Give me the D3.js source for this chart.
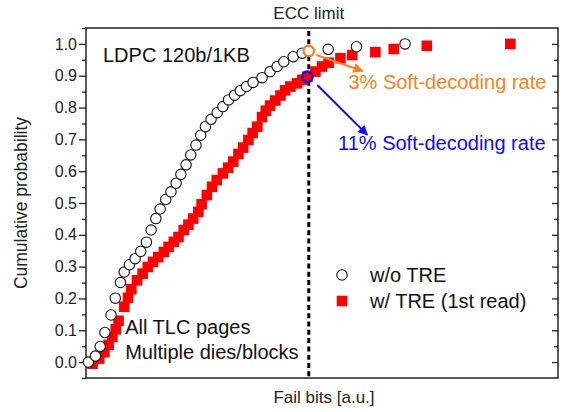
<!DOCTYPE html>
<html><head><meta charset="utf-8">
<script src="https://cdn.jsdelivr.net/npm/d3@7"></script>
<style>html,body{margin:0;padding:0;background:#fff;} svg{display:block;font-family:"Liberation Sans",Arial,sans-serif;}</style>
</head><body><svg id="chart" width="564" height="412"></svg>
<script>
// w/o TRE (open circles)
const woX = [0.5,2.0,3.0,4.0,5.3,6.2,7.3,8.1,9.2,10.4,11.6,12.8,13.8,14.8,15.7,16.9,18.0,19.1,20.1,21.2,22.2,23.3,24.3,25.3,26.5,27.8,29.0,30.2,31.5,32.7,34.0,35.4,37.3,39.0,40.5,41.9,43.9,45.8,47.2,51.3,57.3,67.6];
const woP = [0.000,0.019,0.049,0.093,0.148,0.201,0.250,0.283,0.306,0.325,0.348,0.377,0.415,0.451,0.481,0.511,0.535,0.562,0.590,0.620,0.651,0.682,0.713,0.740,0.763,0.784,0.803,0.824,0.839,0.853,0.866,0.879,0.894,0.913,0.929,0.944,0.960,0.971,0.978,0.983,0.991,1.000];
// w/ TRE (1st read) (red squares)
const wX = [1.4,2.8,3.9,4.8,5.6,6.3,6.9,8.1,8.9,9.6,10.8,12.0,13.1,14.2,15.3,16.5,17.5,18.6,19.6,20.7,21.7,22.7,23.8,24.5,25.6,26.7,27.7,29.0,30.1,31.2,32.3,33.3,34.4,35.3,36.3,37.3,38.1,39.0,40.1,41.2,42.2,43.3,44.7,45.8,46.9,48.6,50.0,51.4,53.9,56.4,61.3,65.2,72.2,89.9];
const wP = [-0.005,0.011,0.031,0.054,0.079,0.103,0.130,0.174,0.202,0.229,0.257,0.278,0.299,0.315,0.330,0.346,0.362,0.378,0.393,0.415,0.432,0.451,0.472,0.496,0.525,0.551,0.572,0.593,0.611,0.630,0.654,0.674,0.698,0.720,0.740,0.770,0.790,0.806,0.822,0.838,0.854,0.866,0.876,0.887,0.897,0.913,0.929,0.941,0.955,0.965,0.974,0.984,0.994,1.000];
const yTicks = [0,0.1,0.2,0.3,0.4,0.5,0.6,0.7,0.8,0.9,1.0];
const yMinorTicks = [-0.05,0.05,0.15,0.25,0.35,0.45,0.55,0.65,0.75,0.85,0.95,1.05];
const eccLimit = 47.2;
const orangeIndex = 38;
const blueIndex = 44;
const orangeArrow = [[48.8,0.965],[58.6,0.915]];
const blueArrow = [[49.0,0.871],[59.6,0.714]];
const seriesNames = ["w/o TRE","w/ TRE (1st read)"];

const svg = d3.select("#chart");
const L = 86, R = 558, T = 28, B = 378;
const x = d3.scaleLinear().domain([0,100]).range([L,R]);
const y = d3.scaleLinear().domain([-0.05,1.05]).range([B,T]);
const ink = "#222";
const orange = "#ff7f1e", blue = "#0a0aff", red = "#ff0000";

// frame
svg.append("rect").attr("x",L).attr("y",T).attr("width",R-L).attr("height",B-T)
  .attr("fill","none").attr("stroke",ink).attr("stroke-width",1.5);

// left axis
const yAxis = svg.append("g").attr("transform",`translate(${L},0)`)
  .call(d3.axisLeft(y).tickValues(yTicks).tickFormat(d3.format(".1f")).tickSize(7).tickPadding(2));
yAxis.select(".domain").remove();
yAxis.selectAll("line").attr("stroke",ink).attr("stroke-width",1.3);
yAxis.selectAll("text").attr("font-size",16).attr("fill",ink).attr("font-family","Liberation Sans, Arial, sans-serif");
const yMinor = svg.append("g").attr("transform",`translate(${L},0)`)
  .call(d3.axisLeft(y).tickValues(yMinorTicks).tickFormat("").tickSize(4));
yMinor.select(".domain").remove();
yMinor.selectAll("line").attr("stroke",ink).attr("stroke-width",1.3);
// right axis, inward ticks
const yR = svg.append("g").attr("transform",`translate(${R},0)`)
  .call(d3.axisRight(y).tickValues(yTicks).tickFormat("").tickSize(-6));
yR.select(".domain").remove();
yR.selectAll("line").attr("stroke",ink).attr("stroke-width",1.3);
const yRm = svg.append("g").attr("transform",`translate(${R},0)`)
  .call(d3.axisRight(y).tickValues(yMinorTicks.filter(d=>d>-0.05&&d<1.05)).tickFormat("").tickSize(-4));
yRm.select(".domain").remove();
yRm.selectAll("line").attr("stroke",ink).attr("stroke-width",1.3);

// axis titles
svg.append("text").attr("transform",`translate(27,${(T+B)/2}) rotate(-90)`)
  .attr("text-anchor","middle").attr("font-size",17.5).attr("fill",ink).text("Cumulative probability");
svg.append("text").attr("x",324).attr("y",403).attr("text-anchor","middle")
  .attr("font-size",17).attr("fill",ink).text("Fail bits [a.u.]");

// ECC limit
svg.append("line").attr("x1",x(eccLimit)).attr("x2",x(eccLimit)).attr("y1",T+3).attr("y2",B)
  .attr("stroke","#000").attr("stroke-width",3).attr("stroke-dasharray","5,3.3");
svg.append("text").attr("x",x(eccLimit)).attr("y",18.5).attr("text-anchor","middle")
  .attr("font-size",17).attr("fill",ink).text("ECC limit");

// squares
const sq = 10.6;
svg.append("g").selectAll("rect").data(wX.map((d,i)=>[d,wP[i]])).join("rect")
  .attr("x",d=>x(d[0])-sq/2).attr("y",d=>y(d[1])-sq/2).attr("width",sq).attr("height",sq)
  .attr("fill",red);
// circles
const cr = 5.2;
svg.append("g").selectAll("circle").data(woX.map((d,i)=>[d,woP[i]])).join("circle")
  .attr("cx",d=>x(d[0])).attr("cy",d=>y(d[1])).attr("r",cr)
  .attr("fill","#fff").attr("stroke","#111").attr("stroke-width",1.1);

// highlights
svg.append("circle").attr("cx",x(woX[orangeIndex])).attr("cy",y(woP[orangeIndex])).attr("r",5.3)
  .attr("fill","#fff").attr("stroke",orange).attr("stroke-width",2.2);
svg.append("circle").attr("cx",x(wX[blueIndex])).attr("cy",y(wP[blueIndex])).attr("r",5.3)
  .attr("fill","none").attr("stroke",blue).attr("stroke-width",2.2);

// arrows
const defs = svg.append("defs");
[["arrO",orange],["arrB",blue]].forEach(([id,c])=>{
  defs.append("marker").attr("id",id).attr("viewBox","0 0 10 10").attr("refX",9).attr("refY",5)
    .attr("markerUnits","userSpaceOnUse").attr("markerWidth",11).attr("markerHeight",10).attr("orient","auto")
    .append("path").attr("d","M0,0 L10,5 L0,10 Z").attr("fill",c);
});
svg.append("line").attr("x1",x(orangeArrow[0][0])).attr("y1",y(orangeArrow[0][1]))
  .attr("x2",x(orangeArrow[1][0])).attr("y2",y(orangeArrow[1][1]))
  .attr("stroke",orange).attr("stroke-width",2).attr("marker-end","url(#arrO)");
svg.append("line").attr("x1",x(blueArrow[0][0])).attr("y1",y(blueArrow[0][1]))
  .attr("x2",x(blueArrow[1][0])).attr("y2",y(blueArrow[1][1]))
  .attr("stroke",blue).attr("stroke-width",2).attr("marker-end","url(#arrB)");

// annotation texts
svg.append("text").attr("x",x(55.6)).attr("y",y(0.858)).attr("font-size",20).attr("fill",orange).text("3% Soft-decoding rate");
svg.append("text").attr("x",x(53.4)).attr("y",y(0.666)).attr("font-size",20).attr("fill",blue).text("11% Soft-decoding rate");
svg.append("text").attr("x",x(3.6)).attr("y",y(0.944)).attr("font-size",20).attr("fill","#111").text("LDPC 120b/1KB");
svg.append("text").attr("x",x(8.3)).attr("y",y(0.087)).attr("font-size",20).attr("fill","#111").text("All TLC pages");
svg.append("text").attr("x",x(8.3)).attr("y",y(0.0085)).attr("font-size",20).attr("fill","#111").text("Multiple dies/blocks");

// legend
const lg = svg.append("g").attr("transform","translate(342,275)");
lg.append("circle").attr("cx",0).attr("cy",0).attr("r",cr).attr("fill","#fff").attr("stroke","#111").attr("stroke-width",1.1);
lg.append("text").attr("x",28).attr("y",7).attr("font-size",20).attr("fill","#111").text(seriesNames[0]);
lg.append("rect").attr("x",-sq/2).attr("y",26-sq/2).attr("width",sq).attr("height",sq).attr("fill",red);
lg.append("text").attr("x",28).attr("y",33).attr("font-size",20).attr("fill","#111").text(seriesNames[1]);
</script></body></html>
